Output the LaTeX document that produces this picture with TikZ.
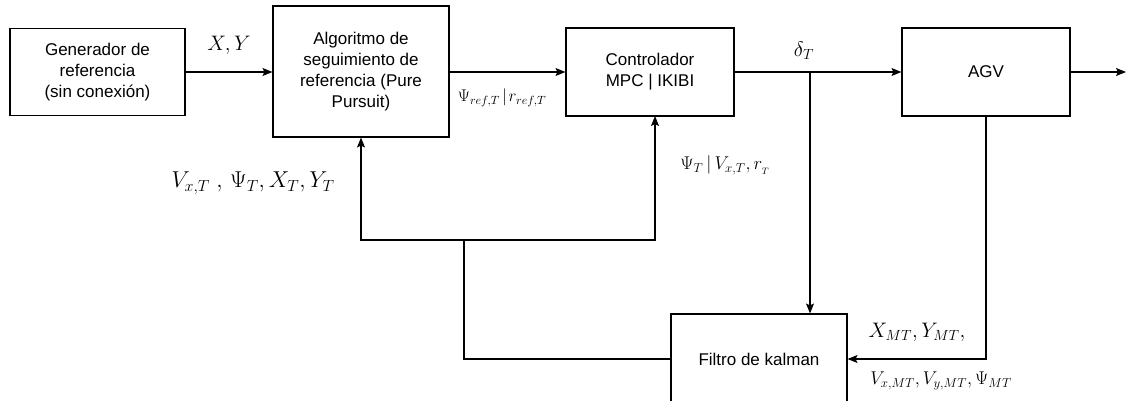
\documentclass[tikz,border=0pt]{standalone}
\usepackage{fix-cm}
\usepackage[no-math]{fontspec}
\setmainfont{Liberation Sans}
\usetikzlibrary{arrows.meta}
\begin{document}
\begin{tikzpicture}[x=1pt,y=-1pt,
  block/.style={draw, line width=1.1pt, align=center, inner sep=2pt,
    font=\fontsize{17}{21}\selectfont},
  flow/.style={line width=1.1pt},
  arr/.style={flow, -{Stealth[length=10pt,width=8pt,inset=2pt]}},
  lbl/.style={inner sep=0pt, font=\fontsize{21}{24}\selectfont},
  lblbig/.style={inner sep=0pt, font=\fontsize{23}{26}\selectfont},
  lblsm/.style={inner sep=0pt, font=\fontsize{17}{20}\selectfont},
  lblmid/.style={inner sep=0pt, font=\fontsize{18.5}{22}\selectfont}]
\useasboundingbox (0,0) rectangle (1126,401);

% blocks
\node[block, minimum width=175pt, minimum height=87pt] (gen) at (97.5,72)
  {Generador de\\referencia\\(sin conexión)};
\node[block, minimum width=176pt, minimum height=131pt] (alg) at (361,71.5)
  {Algoritmo de\\seguimiento de\\referencia (Pure\\Pursuit)};
\node[block, minimum width=168pt, minimum height=88pt] (ctl) at (650,72)
  {Controlador\\MPC | IKIBI};
\node[block, minimum width=168pt, minimum height=88pt] (agv) at (986,72) {AGV};
\node[block, minimum width=176pt, minimum height=90pt] (kal) at (759,359)
  {Filtro de kalman};

% auxiliary points
\coordinate (out) at (1126,72);
\coordinate (br) at (810,72);
\coordinate (j) at (464,240);
\coordinate (ctlin) at (655,116);

% forward path
\draw[arr] (gen.east) -- (alg.west |- gen.east);
\draw[arr] (alg.east |- ctl.west) -- (ctl.west);
\draw[arr] (ctl.east) -- (agv.west);
\draw[arr] (agv.east) -- (out);

% feedback paths
\draw[arr] (br) -- (br |- kal.north);
\draw[arr] (agv.south) |- (kal.east);
\draw[flow] (kal.west) -| (j);
\draw[arr] (j) -| (alg.south);
\draw[arr] (j) -| (ctlin);

% signal labels
\node[lbl] (lxy) at (229,45) {$X,Y$};
\node[lblsm] (lref) at (502,98) {$\Psi_{ref,T}\mkern2mu|\mkern2mu r_{ref,T}$};
\node[lbl] (ldel) at (804,51) {$\delta_T$};
\node[lblmid] (lpsi) at (725,165) {$\Psi_T\,|\,V_{x,T},r_{{}_T}$};
\node[lblbig] (lstate) at (253,183) {$V_{x,T}\;,\,\Psi_T,X_T,Y_T$};
\node[lbl] (lxm) at (917,332) {$X_{MT},Y_{MT},$};
\node[lblmid] (lvm) at (941,381) {$V_{x,MT},V_{y,MT},\Psi_{MT}$};
\end{tikzpicture}
\end{document}
